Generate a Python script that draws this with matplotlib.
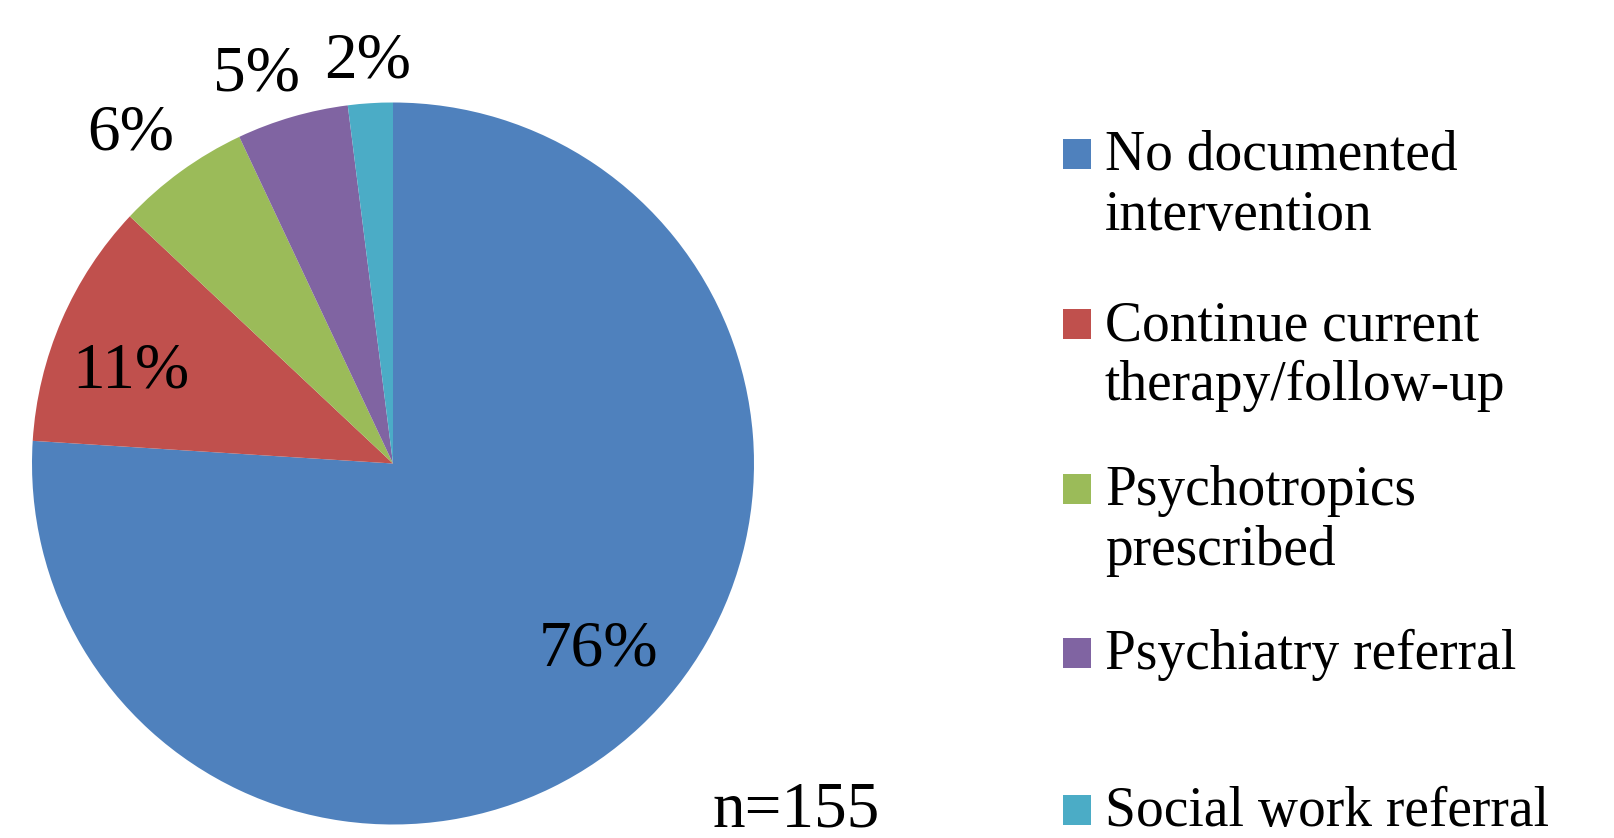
import numpy as np
import matplotlib
matplotlib.use("Agg")
import matplotlib.pyplot as plt
from matplotlib.patches import Rectangle

# data
categories = ["No documented\nintervention",
              "Continue current\ntherapy/follow-up",
              "Psychotropics\nprescribed",
              "Psychiatry referral",
              "Social work referral"]
percents = [76, 11, 6, 5, 2]
colors = ["#4F81BD", "#C0504D", "#9BBB59", "#8064A2", "#4BACC6"]
n_total = 155

# label placement (radius as fraction of pie radius, small angle nudge in degrees)
label_dist = [0.77, 0.77, 1.166, 1.141, 1.114]
label_nudge = [4.6, 4.2, 2.5, 3.2, 0.0]

W, H = 1615, 838
plt.rcParams['font.family'] = ['Liberation Serif', 'DejaVu Serif']
fig = plt.figure(figsize=(W / 100, H / 100), dpi=100)

cx, cy, r = 393, 463.5, 361
ax = fig.add_axes([(cx - r) / W, (H - cy - r) / H, 2 * r / W, 2 * r / H])
wedges, _ = ax.pie(percents, colors=colors, startangle=90, counterclock=False,
                   radius=1, wedgeprops=dict(linewidth=0))
ax.set_xlim(-1, 1)
ax.set_ylim(-1, 1)
ax.axis('off')

# percentage labels
for w, p, d, nudge in zip(wedges, percents, label_dist, label_nudge):
    mid = np.deg2rad((w.theta1 + w.theta2) / 2 + nudge)
    ax.text(d * np.cos(mid), d * np.sin(mid), f"{p}%", ha='center', va='center',
            fontsize=47, color='black', clip_on=False)

fig.text(796 / W, 1 - 826 / H, f"n={n_total}", ha='center', va='baseline', fontsize=47)

# legend drawn by hand so every entry gets the same slot height
first_base = [170, 340, 505, 669, 826]
line_gap = 60
for cat, col, base in zip(categories, colors, first_base):
    fig.add_artist(Rectangle((1063 / W, 1 - (base - 1) / H), 28 / W, 30 / H,
                             transform=fig.transFigure, color=col, lw=0))
    for i, line in enumerate(cat.split("\n")):
        fig.text(1105 / W, 1 - (base + i * line_gap) / H, line,
                 ha='left', va='baseline', fontsize=40)

fig.savefig("out.png", dpi=100)
